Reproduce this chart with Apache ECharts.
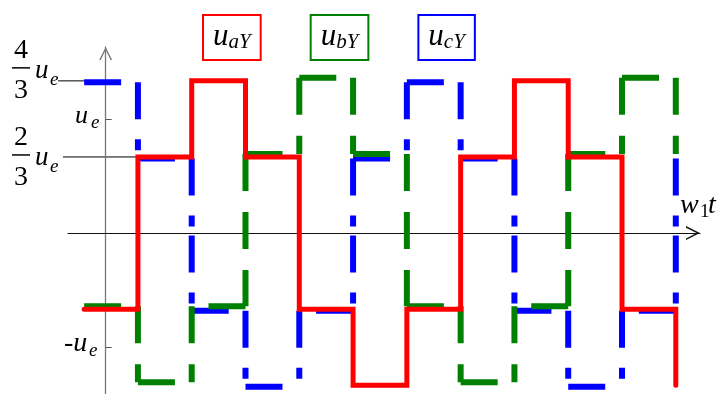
<!DOCTYPE html>
<html style="height: 100%">
<head>
<meta charset="utf-8">
<script src="https://cdn.jsdelivr.net/npm/echarts@6/dist/echarts.min.js"></script>
</head>
<body style="height: 100%; margin: 0; background: #fff">
<div id="container" style="width: 720px; height: 394px"></div>
<script type="text/javascript">
// segment edges along w1t (one segment = 60 degrees), y axis sits at 0
var xEdges = [-0.4, 0.6, 1.6, 2.6, 3.6, 4.6, 5.6, 6.6, 7.6, 8.6, 9.6, 10.6];
// level of each segment in units of u_e (last value: level after the final edge)
var uaY = [-2/3, 2/3, 4/3, 2/3, -2/3, -4/3, -2/3, 2/3, 4/3, 2/3, -2/3, -4/3];
var ubY = [-2/3, -4/3, -2/3, 2/3, 4/3, 2/3, -2/3, -4/3, -2/3, 2/3, 4/3, 2/3];
var ucY = [4/3, 2/3, -2/3, -4/3, -2/3, 2/3, 4/3, 2/3, -2/3, -4/3, -2/3, 2/3];
var seriesNames = ['uaY', 'ubY', 'ucY'];
var seriesColors = ['#ff0000', '#008000', '#0000ff'];
// y axis labels
var labelValues = [4/3, 1, 2/3, -1];
var tickValues = [1, -1];

var serif = '"Liberation Serif", "Times New Roman", serif';

// solid step line: one continuous path
function stepPath(levels) {
    var pts = [[xEdges[0], levels[0]]];
    for (var i = 1; i < xEdges.length; i++) {
        pts.push([xEdges[i], levels[i - 1]]);
        pts.push([xEdges[i], levels[i]]);
    }
    return pts;
}

// dashed step line: every straight piece is its own sub path so the dash restarts
function dashPieces(levels) {
    var pts = [];
    for (var i = 0; i < xEdges.length - 1; i++) {
        var a = [xEdges[i], levels[i]], b = [xEdges[i + 1], levels[i]];
        if (i > 0 && levels[i - 1] < levels[i] && levels[i] < 0) pts.push(b, a);
        else pts.push(a, b);
        pts.push([xEdges[i + 1], null]);
        var hi = Math.max(levels[i], levels[i + 1]), lo = Math.min(levels[i], levels[i + 1]);
        pts.push([xEdges[i + 1], hi], [xEdges[i + 1], lo]);
        pts.push([xEdges[i + 1], null]);
    }
    return pts;
}

var dom = document.getElementById('container');
var myChart = echarts.init(dom);

var yMin = -1.41, yMax = 1.63, xMin = -0.7, xMax = 11.05;
function grid(top) {
    return {left: 68, right: 20, top: top, height: 347, outerBoundsMode: 'none', containLabel: false};
}
function hiddenX(i) { return {type: 'value', gridIndex: i, min: xMin, max: xMax, show: false}; }
function hiddenY(i) { return {type: 'value', gridIndex: i, min: yMin, max: yMax, show: false}; }

var arrowPath = 'path://M0,10L5,0L10,10L8.8,10L5,2.4L1.2,10Z';

var option = {
    animation: false,
    backgroundColor: '#fff',
    grid: [grid(47), grid(44), grid(48.5)],
    legend: {
        top: 9,
        left: 193,
        itemGap: 44,
        itemWidth: 0,
        itemHeight: 0,
        icon: 'rect',
        selectedMode: false,
        formatter: function (name) {
            return '{u|u}{s|' + name.slice(1) + '}';
        },
        textStyle: {
            borderWidth: 2,
            padding: [5, 10, 7, 10],
            rich: {
                u: {fontFamily: serif, fontStyle: 'italic', fontSize: 31, color: '#000'},
                s: {fontFamily: serif, fontStyle: 'italic', fontSize: 21, color: '#000', padding: [12, 0, 0, 0]}
            }
        },
        data: seriesNames.map(function (n, i) {
            return {name: n, textStyle: {borderColor: seriesColors[i]}};
        })
    },
    xAxis: [{
        type: 'value',
        gridIndex: 0,
        min: xMin,
        max: xMax,
        axisLine: {
            onZero: true,
            symbol: ['none', arrowPath],
            symbolSize: [15, 14],
            symbolOffset: [0, -7],
            lineStyle: {color: '#111', width: 1.2}
        },
        axisTick: {show: false},
        axisLabel: {show: false},
        splitLine: {show: false}
    }, hiddenX(1), hiddenX(2)],
    yAxis: [{
        type: 'value',
        gridIndex: 0,
        min: yMin,
        max: yMax,
        axisLine: {
            show: true,
            onZero: true,
            symbol: ['none', arrowPath],
            symbolSize: [14, 13],
            symbolOffset: [0, -6.5],
            lineStyle: {color: '#777', width: 1.3}
        },
        axisTick: {show: true, inside: true, length: 6, customValues: tickValues, lineStyle: {color: '#555', width: 1}},
        axisLabel: {show: false},
        splitLine: {show: false}
    }, hiddenY(1), hiddenY(2)],
    series: [{
        name: 'uaY',
        type: 'line',
        xAxisIndex: 0,
        yAxisIndex: 0,
        z: 4,
        showSymbol: false,
        data: stepPath(uaY),
        lineStyle: {color: seriesColors[0], width: 5, cap: 'round', join: 'miter'},
        itemStyle: {color: seriesColors[0]}
    }, {
        name: 'ubY',
        type: 'line',
        xAxisIndex: 1,
        yAxisIndex: 1,
        z: 3,
        showSymbol: false,
        connectNulls: false,
        data: dashPieces(ubY),
        lineStyle: {color: seriesColors[1], width: 6, type: [37, 21]},
        itemStyle: {color: seriesColors[1]}
    }, {
        name: 'ucY',
        type: 'line',
        xAxisIndex: 2,
        yAxisIndex: 2,
        z: 2,
        showSymbol: false,
        connectNulls: false,
        data: dashPieces(ucY),
        lineStyle: {color: seriesColors[2], width: 6, type: [37, 20, 11, 9]},
        itemStyle: {color: seriesColors[2]}
    }]
};
myChart.setOption(option);

// labels on the left of the y axis, placed through the axis scale
function py(v) { return myChart.convertToPixel({yAxisIndex: 0}, v); }
function px(v) { return myChart.convertToPixel({xAxisIndex: 0}, v); }
function txt(x, baseline, s, fs, italic, align) {
    return {
        type: 'text', x: x, y: baseline - 0.34 * fs, silent: true,
        style: {text: s, fontFamily: serif, fontSize: fs, fontStyle: italic ? 'italic' : 'normal',
                fill: '#000', align: align || 'left', verticalAlign: 'middle'}
    };
}
function hline(x1, x2, y, w) {
    return {type: 'line', silent: true, shape: {x1: x1, y1: y, x2: x2, y2: y}, style: {stroke: '#000', lineWidth: w || 1}};
}
function fraction(num, den, bar) {
    return [
        txt(21, bar - 8, num, 28, false, 'center'),
        hline(12, 30, bar, 1.5),
        txt(21, bar + 32, den, 28, false, 'center'),
        txt(35, bar + 12, 'u', 27, true),
        txt(50, bar + 19, 'e', 19, true)
    ];
}

var g = [];
var y43 = py(labelValues[0]), y1 = py(labelValues[1]), y23 = py(labelValues[2]), ym1 = py(labelValues[3]);
g.push(hline(58, 113, y43, 1));
g.push(hline(63, px(xEdges[1]), y23, 1));
g = g.concat(fraction('4', '3', y43 - 13));
g = g.concat(fraction('2', '3', y23 - 2));
g.push(txt(75, y1 + 6, 'u', 26, true));
g.push(txt(91, y1 + 11, 'e', 19, true));
g.push(txt(64, ym1 + 6, '-u', 28, true));
g.push(txt(89, ym1 + 10, 'e', 19, true));
// axis name w1t
var y0 = py(0);
g.push(txt(680, y0 - 18, 'w', 28, true));
g.push(txt(700, y0 - 15, '1', 19, false));
g.push(txt(708, y0 - 18, 't', 28, true));

myChart.setOption({graphic: g});
</script>
</body>
</html>
